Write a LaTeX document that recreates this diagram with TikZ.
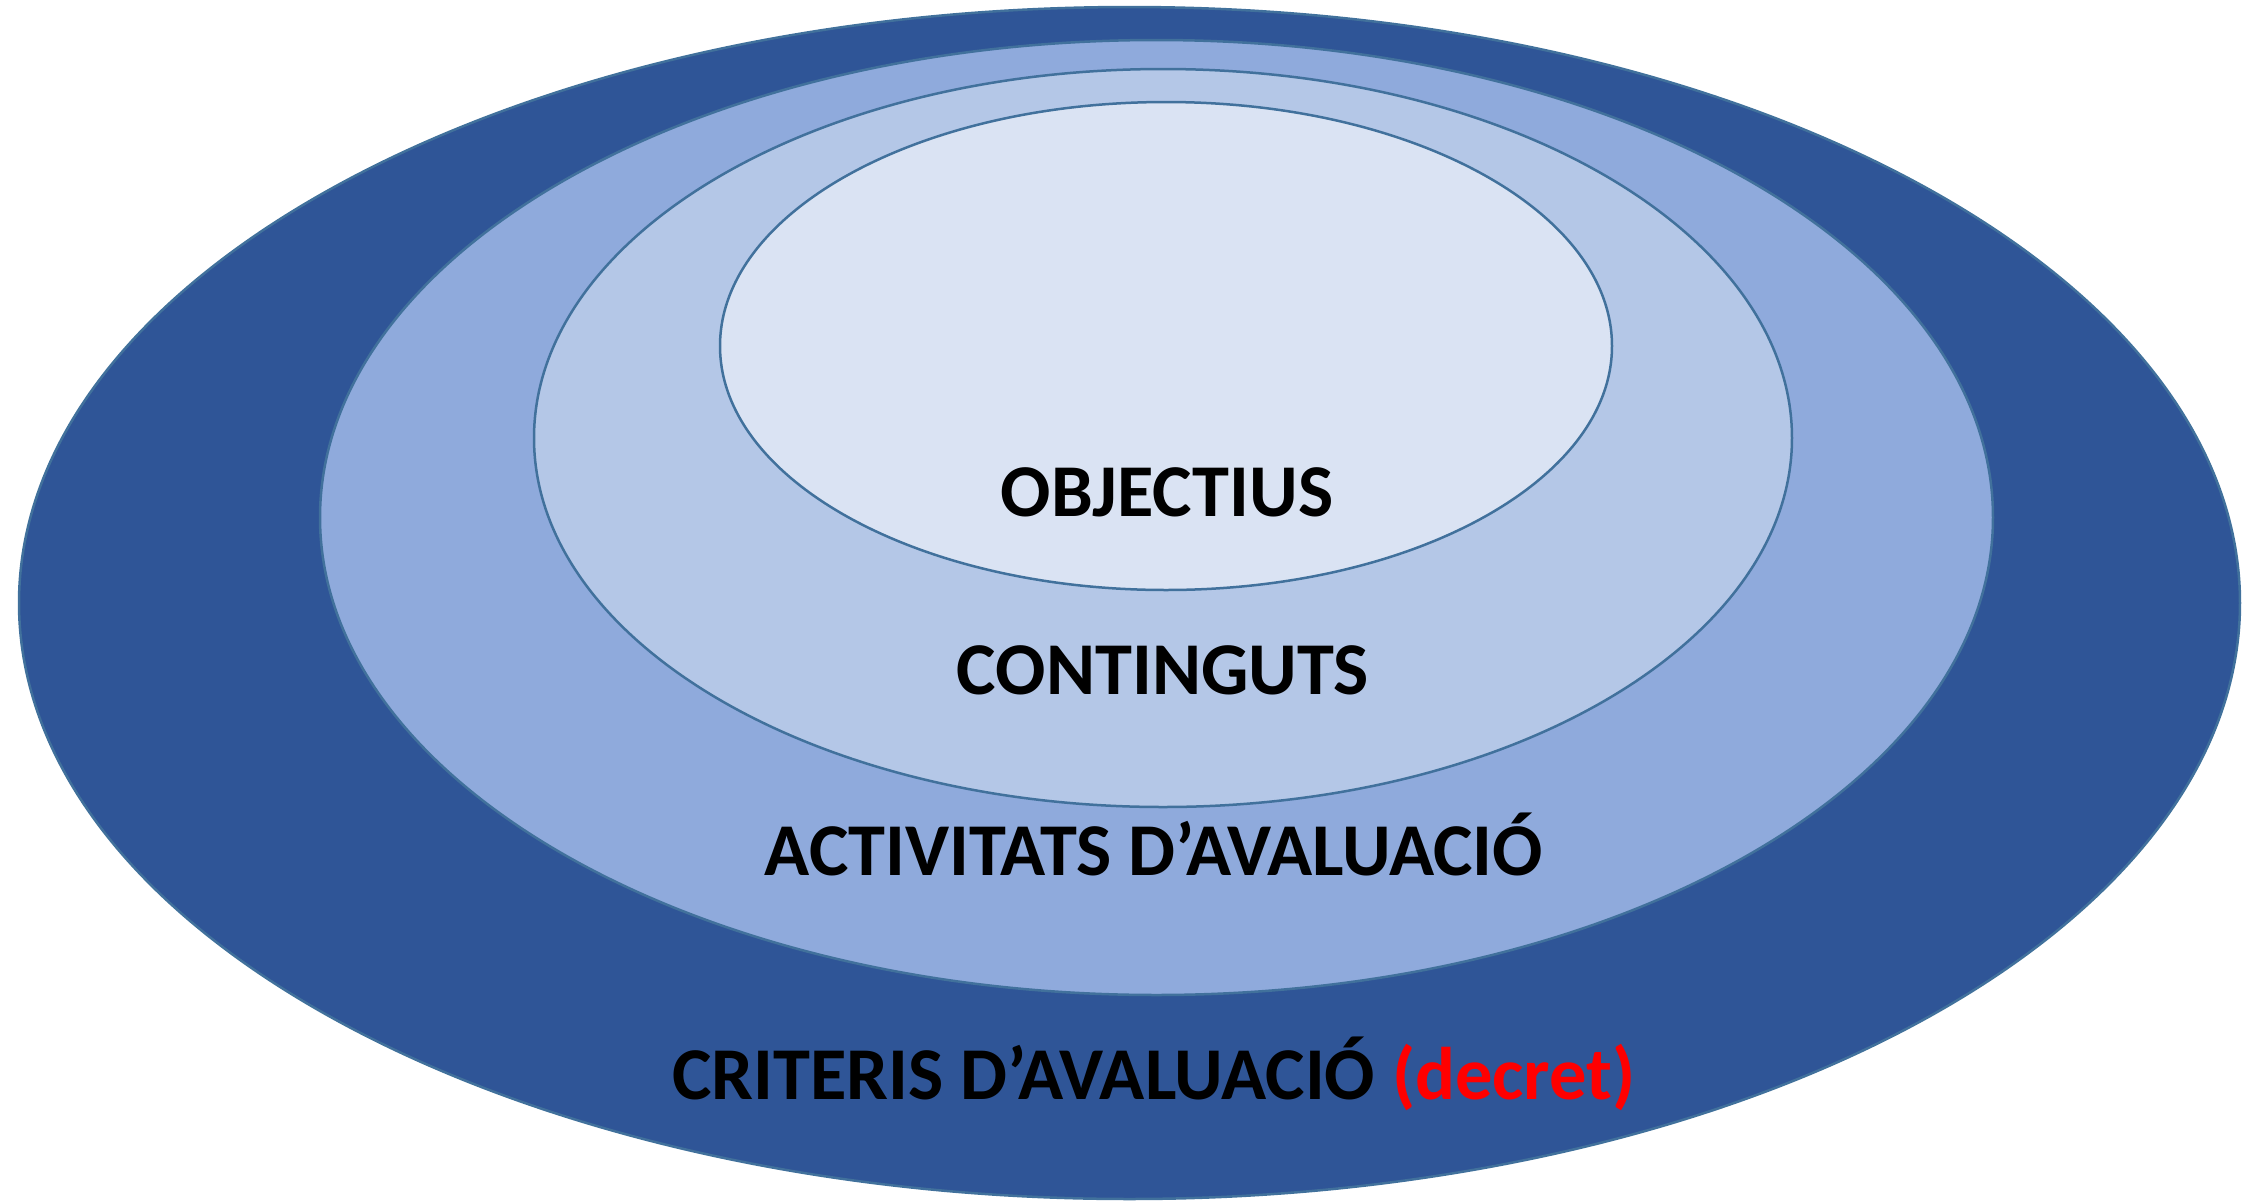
\documentclass[tikz,border=0pt]{standalone}
\usepackage{fontspec}
\setmainfont{Carlito}
\usepackage{tikz}
\definecolor{ringA}{HTML}{2F5597}
\definecolor{ringB}{HTML}{8FAADC}
\definecolor{ringC}{HTML}{B4C7E7}
\definecolor{ringD}{HTML}{DAE3F3}
\definecolor{rim}{HTML}{41719C}
\definecolor{decretred}{HTML}{FF0000}
\tikzset{
  ring/.style={draw=rim, line width=0.25mm},
  lbl/.style={anchor=base, inner sep=0pt, font=\fontsize{21.2}{25}\selectfont\bfseries}
}

\begin{document}
\begin{tikzpicture}[x=0.1mm,y=-0.1mm]
   \useasboundingbox (0,0) rectangle (2257,1202);
   % nested rings, outer to inner
   \draw[ring, fill=ringA] (1129.5,603) ellipse (111.05mm and 59.6mm);
   \draw[ring, fill=ringB] (1156.5,517.5) ellipse (83.65mm and 47.75mm);
   \draw[ring, fill=ringC] (1163,438) ellipse (62.9mm and 36.9mm);
   \draw[ring, fill=ringD] (1166,346) ellipse (44.6mm and 24.4mm);

   \draw (1167,516) node[lbl] (objectius) {OBJECTIUS};
   \draw (1163,694) node[lbl] (continguts) {CONTINGUTS};
   \draw (1154,875) node[lbl] (activitats) {ACTIVITATS D’AVALUACIÓ};
   \draw (1154,1099) node[lbl] (criteris) {CRITERIS D’AVALUACIÓ \textcolor{decretred}{(decret)}};
\end{tikzpicture}
\end{document}
